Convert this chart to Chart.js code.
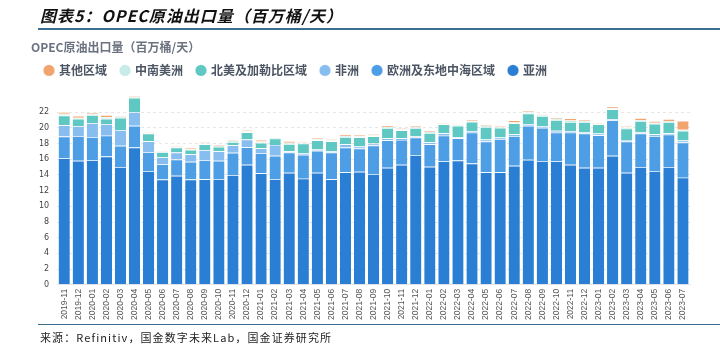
<!DOCTYPE html>
<html>
<head>
<meta charset="utf-8">
<script src="https://cdn.jsdelivr.net/npm/chart.js@4/dist/chart.umd.min.js"></script>
<style>
  body { margin: 0; background: #fff; }
  #wrap { position: relative; width: 720px; height: 346px; overflow: hidden; }
  #head { position: absolute; left: 40px; top: 3px; font: italic bold 16px "Noto Sans CJK SC", sans-serif; color: #111; letter-spacing: 1px; }
  #headLine { position: absolute; left: 38px; right: 0; top: 28px; height: 2px; background: #3b6f8f; }
  #footLine { position: absolute; left: 38px; right: 0; top: 324px; height: 1px; background: #3b6f8f; }
  #foot { position: absolute; left: 40px; top: 329px; font: 11px "Noto Sans CJK SC", monospace; color: #222; letter-spacing: 1.1px; }
  #box { position: absolute; left: 0; top: 0; width: 720px; height: 346px; }
</style>
</head>
<body>
<div id="wrap">
  <div id="box"><canvas id="opecChart"></canvas></div>
  <div id="head">图表5：OPEC原油出口量（百万桶/天）</div>
  <div id="headLine"></div>
  <div id="footLine"></div>
  <div id="foot">来源：Refinitiv，国金数字未来Lab，国金证券研究所</div>
</div>
<script>
const months = ['2019-11', '2019-12',
    '2020-01', '2020-02', '2020-03', '2020-04', '2020-05', '2020-06', '2020-07', '2020-08', '2020-09', '2020-10', '2020-11', '2020-12',
    '2021-01', '2021-02', '2021-03', '2021-04', '2021-05', '2021-06', '2021-07', '2021-08', '2021-09', '2021-10', '2021-11', '2021-12',
    '2022-01', '2022-02', '2022-03', '2022-04', '2022-05', '2022-06', '2022-07', '2022-08', '2022-09', '2022-10', '2022-11', '2022-12',
    '2023-01', '2023-02', '2023-03', '2023-04', '2023-05', '2023-06', '2023-07'];

// 百万桶/天
const asia = [16.1, 15.8, 15.88, 16.35, 15.0, 17.49, 14.5, 13.4, 13.9, 13.4, 13.45, 13.48, 13.99, 15.3,
    14.2, 13.48, 14.28, 13.52, 14.28, 13.44, 14.33, 14.41, 14.12, 14.92, 15.3, 16.52,
    15.04, 15.72, 15.84, 15.46, 14.33, 14.33, 15.17, 15.93, 15.76, 15.72, 15.3, 14.92,
    14.92, 16.43, 14.28, 15.0, 14.5, 15.0, 13.65];
const europe = [2.78, 3.16, 2.95, 2.65, 2.7, 2.78, 2.4, 1.94, 2.07, 2.27, 2.43, 2.32, 2.82, 2.23,
    2.57, 2.95, 2.57, 3.04, 2.79, 3.41, 3.16, 2.95, 3.62, 3.49, 3.16, 2.23,
    2.87, 3.28, 2.83, 3.92, 3.92, 4.25, 3.79, 4.34, 4.25, 3.66, 4.08, 4.34,
    4.13, 4.51, 3.97, 4.26, 4.46, 4.13, 4.47];
const africa = [1.43, 1.22, 1.77, 1.48, 2.02, 1.73, 1.39, 0.92, 0.88, 0.97, 1.27, 1.22, 0.97, 0.97,
    0.63, 1.39, 0.15, 0.21, 0.16, 0.17, 0.42, 0.25, 0.25, 0.26, 0.21, 0.13,
    0.25, 0.3, 0.12, 0.21, 0.25, 0.17, 0.21, 0.21, 0.22, 0.25, 0.21, 0.21,
    0.21, 0.17, 0.21, 0.21, 0.21, 0.17, 0.25];
const northAm = [1.26, 0.97, 1.02, 0.67, 1.56, 1.81, 0.97, 0.64, 0.64, 0.55, 0.76, 0.55, 0.42, 0.93,
    0.68, 0.8, 0.93, 1.22, 1.18, 1.27, 0.92, 1.18, 0.93, 1.3, 1.01, 1.09,
    1.18, 1.14, 1.48, 1.18, 1.6, 1.26, 1.39, 1.35, 1.26, 1.35, 1.14, 1.26,
    1.18, 1.26, 1.43, 1.39, 1.35, 1.43, 1.26];
const southAm = [0.21, 0.13, 0.12, 0.21, 0.17, 0.08, 0.08, 0.08, 0.12, 0.09, 0.12, 0.13, 0.17, 0.12,
    0.16, 0.13, 0.16, 0.13, 0.13, 0.12, 0.13, 0.13, 0.13, 0.13, 0.12, 0.13,
    0.17, 0.12, 0.08, 0.13, 0.17, 0.13, 0.13, 0.17, 0.17, 0.13, 0.21, 0.17,
    0.12, 0.13, 0.17, 0.12, 0.13, 0.13, 0.13];
const other = [0.22, 0.25, 0.17, 0.26, 0.12, 0.17, 0.05, 0.05, 0.13, 0.16, 0.13, 0.17, 0.17, 0.17,
    0.22, 0.05, 0.22, 0.17, 0.17, 0.13, 0.17, 0.17, 0.16, 0.17, 0.17, 0.13,
    0.17, 0.13, 0.05, 0.17, 0.08, 0.13, 0.25, 0.16, 0.08, 0.13, 0.26, 0.17,
    0.13, 0.21, 0.17, 0.26, 0.21, 0.25, 1.14];

const yTicks = [0, 2, 4, 6, 8, 10, 12, 14, 16, 18, 20, 22];

const cjk = '"Noto Sans CJK SC", "Noto Sans", sans-serif';

function seg(label, data, color) {
    return {
        label: label,
        data: data,
        backgroundColor: color,
        borderColor: 'rgba(255,255,255,0.85)',
        borderWidth: { top: 0.7, left: 0, right: 0, bottom: 0 },
        borderSkipped: false,
        categoryPercentage: 1.0,
        barPercentage: 0.8
    };
}

// a bit more room under the legend
const legendGap = {
    id: 'legendGap',
    beforeInit: function (chart) {
        const fit = chart.legend.fit;
        chart.legend.fit = function () {
            fit.bind(chart.legend)();
            this.height += 10;
        };
    }
};

const ctx = document.getElementById('opecChart').getContext('2d');
new Chart(ctx, {
    type: 'bar',
    data: {
        labels: months,
        datasets: [
            seg('亚洲', asia, '#2a7fd4'),
            seg('欧洲及东地中海区域', europe, '#4e9ee6'),
            seg('非洲', africa, '#88bdf0'),
            seg('北美及加勒比区域', northAm, '#5fc8c2'),
            seg('中南美洲', southAm, '#c6ebe8'),
            seg('其他区域', other, '#f2a46f')
        ]
    },
    options: {
        responsive: true,
        maintainAspectRatio: false,
        animation: false,
        layout: {
            padding: { top: 40, left: 31, right: 30, bottom: 22 }
        },
        plugins: {
            title: {
                display: true,
                text: 'OPEC原油出口量（百万桶/天）',
                align: 'start',
                color: '#6b7280',
                font: { family: cjk, size: 12, weight: 'bold' },
                padding: { top: 0, bottom: -4 }
            },
            legend: {
                position: 'top',
                align: 'start',
                reverse: true,
                labels: {
                    usePointStyle: true,
                    pointStyle: 'circle',
                    boxWidth: 8,
                    boxHeight: 8,
                    padding: 14,
                    color: '#4b5563',
                    font: { family: cjk, size: 12, weight: 'bold' }
                }
            },
            tooltip: { enabled: false }
        },
        scales: {
            x: {
                stacked: true,
                grid: { display: false, drawTicks: false },
                border: { display: true, color: '#e5e7eb' },
                ticks: {
                    color: '#555',
                    minRotation: 90,
                    maxRotation: 90,
                    autoSkip: false,
                    padding: 4,
                    font: { family: '"Liberation Sans", Arial, sans-serif', size: 8.5 }
                }
            },
            y: {
                stacked: true,
                min: 0,
                max: 24,
                afterBuildTicks: function (axis) {
                    axis.ticks = yTicks.map(function (v) { return { value: v }; });
                },
                grid: { color: '#e6e6e6', tickLength: 0 },
                border: { display: false, dash: [3, 3] },
                ticks: {
                    color: '#444',
                    padding: 8,
                    font: { family: '"DejaVu Sans", sans-serif', size: 8 }
                }
            }
        }
    },
    plugins: [legendGap]
});
</script>
</body>
</html>
